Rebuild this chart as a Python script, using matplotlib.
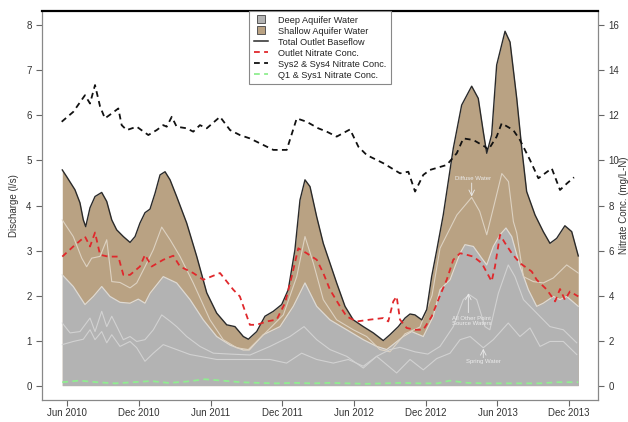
import numpy as np
import matplotlib
matplotlib.use("Agg")
import matplotlib.pyplot as plt
from matplotlib.lines import Line2D

plt.rcParams['font.family'] = ['Liberation Sans', 'DejaVu Sans']

# time axis: decimal months since 2010-01-01 (5 = Jun 2010)
tick_pos = [5, 11, 17, 23, 29, 35, 41, 47]
tick_labels = ["Jun 2010", "Dec 2010", "Jun 2011", "Dec 2011",
               "Jun 2012", "Dec 2012", "Jun 2013", "Dec 2013"]

# Total outlet baseflow (l/s)
t_total = [4.58, 4.95, 5.64, 6.06, 6.34, 6.54, 6.90, 7.32, 7.88, 8.30, 8.72, 9.13, 9.69,
           10.25, 10.67, 11.08, 11.50, 11.92, 12.34, 12.76, 13.18, 13.60, 14.15, 14.99,
           15.83, 16.67, 17.50, 18.34, 19.03, 19.73, 20.15, 20.85, 21.54, 22.24, 22.94,
           23.49, 24.05, 24.47, 24.89, 25.31, 25.87, 26.42, 26.98, 27.54, 28.24, 28.93,
           29.77, 30.61, 31.44, 32.00, 32.70, 33.26, 33.68, 34.09, 34.66, 35.08, 35.49,
           35.91, 36.46, 37.30, 38.00, 38.84, 39.39, 39.81, 40.10, 40.51, 40.93, 41.63,
           42.05, 42.61, 43.03, 43.44, 44.14, 44.83, 45.39, 45.95, 46.64, 47.21, 47.76]
total = [4.79, 4.64, 4.35, 4.06, 3.68, 3.53, 3.95, 4.20, 4.29, 4.09, 3.68, 3.46, 3.31,
         3.18, 3.31, 3.61, 3.84, 3.92, 4.27, 4.68, 4.75, 4.57, 4.20, 3.61,
         2.87, 2.06, 1.61, 1.35, 1.31, 1.09, 1.03, 1.20, 1.54, 1.65, 1.80,
         2.13, 3.02, 4.12, 4.57, 4.42, 3.75, 3.16, 2.72, 2.28, 1.76, 1.46,
         1.31, 1.17, 1.00, 1.13, 1.31, 1.50, 1.59, 1.57, 1.46, 1.69, 2.42,
         3.00, 3.79, 5.27, 6.23, 6.65, 6.38, 5.64, 5.16, 5.57, 7.12, 7.87,
         7.63, 6.38, 5.27, 4.31, 3.79, 3.42, 3.16, 3.27, 3.55, 3.42, 2.88]

# Deep aquifer water (l/s)
t_deep = [4.58, 5.50, 6.48, 7.18, 7.88, 8.57, 9.41, 10.25, 10.94, 11.50, 11.92, 13.03,
          14.15, 15.27, 16.38, 17.50, 18.62, 19.73, 20.23, 21.40, 22.80, 23.91, 24.89,
          25.87, 26.98, 28.38, 29.77, 30.89, 31.73, 33.12, 33.82, 34.79, 35.63, 36.19,
          37.03, 37.87, 38.28, 38.98, 39.68, 40.10, 40.65, 41.21, 41.71, 42.19, 42.88,
          43.58, 44.28, 44.83, 45.67, 46.23, 46.79, 47.76]
deep = [2.46, 2.20, 1.80, 1.98, 2.20, 1.98, 1.85, 1.83, 1.92, 1.83, 2.05, 2.42,
        2.28, 1.91, 1.46, 1.09, 0.90, 0.79, 0.79, 1.13, 1.31, 1.76, 2.28,
        1.76, 1.46, 1.24, 1.02, 0.87, 0.80, 1.09, 1.20, 1.09, 1.54, 2.13,
        2.35, 2.94, 3.13, 3.09, 2.83, 2.68, 3.09, 3.35, 3.50, 3.31, 2.65,
        2.13, 1.76, 1.83, 1.98, 1.91, 1.98, 1.76]

# Diffuse water boundary (l/s)
t_diffuse = [4.58, 5.50, 6.21, 6.62, 7.04, 7.74, 8.30, 8.72, 9.41, 10.25, 10.81, 11.50,
             12.20, 12.90, 13.60, 14.43, 15.54, 16.94, 18.05, 19.18, 20.15, 21.69, 23.08,
             24.20, 24.89, 25.59, 26.42, 27.54, 28.93, 30.05, 31.16, 32.00, 33.26, 34.51,
             35.52, 36.19, 37.60, 38.84, 39.51, 40.10, 40.79, 41.36, 41.92, 42.33, 42.61,
             43.17, 44.00, 44.83, 45.67, 46.79, 47.76]
diffuse = [3.68, 3.31, 2.83, 2.64, 2.83, 2.87, 3.24, 2.31, 2.29, 2.17, 2.28, 2.64,
           3.02, 3.52, 3.24, 2.87, 2.28, 1.46, 1.02, 0.84, 0.80, 1.20, 1.57,
           2.42, 3.31, 2.72, 1.91, 1.46, 1.24, 1.09, 0.80, 0.75, 1.15, 1.30,
           2.00, 3.05, 3.79, 4.18, 3.87, 3.35, 4.09, 4.71, 4.53, 3.64, 3.39,
           2.42, 2.31, 2.28, 2.39, 2.68, 2.50]

# All other point source waters boundary (l/s)
t_point = [4.58, 5.23, 6.06, 6.90, 7.32, 7.88, 8.30, 8.72, 9.69, 10.25, 10.81, 11.50,
           12.20, 12.90, 13.60, 14.15, 14.99, 16.10, 17.22, 18.62, 20.29, 21.96, 23.63,
           24.81, 25.87, 26.98, 28.38, 29.77, 30.89, 32.00, 32.84, 34.09, 35.17, 36.19,
           37.30, 38.14, 38.64, 39.26, 39.95, 40.36, 41.07, 41.90, 42.46, 43.17, 44.28,
           45.39, 46.51, 47.63]
point = [1.39, 1.17, 1.20, 1.50, 1.20, 1.65, 1.31, 1.54, 1.02, 1.09, 0.98, 1.02,
         1.24, 1.57, 1.43, 1.31, 1.09, 0.87, 0.72, 0.70, 0.68, 0.87, 1.09,
         1.31, 1.02, 0.80, 0.65, 0.39, 0.65, 0.80, 0.85, 0.75, 0.70, 0.87,
         1.31, 1.91, 2.02, 1.91, 1.31, 1.24, 2.05, 2.68, 2.42, 1.91, 1.61,
         1.31, 1.24, 0.95]

# Spring water boundary (l/s)
t_spring = [4.58, 5.50, 6.34, 6.90, 7.32, 7.88, 8.30, 8.72, 9.41, 10.25, 10.81, 11.50,
            12.20, 13.03, 14.15, 15.27, 16.10, 17.50, 19.18, 20.29, 21.96, 23.35, 24.61,
            25.87, 27.26, 28.51, 29.77, 30.89, 32.56, 33.68, 34.79, 35.91, 37.03, 37.87,
            38.71, 39.81, 40.65, 41.90, 42.88, 43.72, 44.56, 45.39, 46.51, 47.63]
spring = [0.91, 0.98, 1.03, 1.24, 1.02, 1.20, 0.95, 1.13, 0.87, 0.98, 0.84, 0.54,
          0.72, 0.91, 0.80, 0.69, 0.65, 0.58, 0.58, 0.58, 0.58, 0.50, 0.72,
          0.58, 0.50, 0.58, 0.43, 0.65, 0.28, 0.58, 0.35, 0.60, 0.72, 1.02,
          1.09, 0.84, 1.02, 1.39, 1.09, 1.28, 0.87, 0.98, 0.98, 0.69]

# Outlet nitrate conc. (mg/L-N)
t_outlet = [4.58, 5.50, 6.48, 6.90, 7.32, 7.74, 8.43, 9.27, 9.69, 10.25, 11.08, 11.50,
            12.06, 13.03, 13.87, 14.43, 15.54, 16.38, 17.78, 18.89, 19.44, 20.28, 20.85,
            21.69, 22.52, 23.22, 23.78, 24.33, 25.03, 25.87, 26.42, 26.98, 27.82, 28.38,
            29.22, 30.33, 31.44, 31.86, 32.28, 32.56, 32.84, 33.40, 34.09, 34.79, 35.49,
            36.19, 36.75, 37.30, 37.87, 38.43, 38.98, 39.68, 40.51, 40.79, 41.21, 41.63,
            42.19, 42.88, 43.86, 44.28, 45.13, 45.82, 46.23, 46.64, 47.06, 47.76]
outlet_no3 = [5.73, 6.18, 6.62, 6.18, 6.80, 5.81, 5.73, 5.73, 4.92, 4.92, 5.29, 5.81,
              5.29, 5.59, 5.77, 5.29, 5.00, 4.70, 5.00, 4.26, 3.96, 2.70, 2.70,
              2.85, 2.93, 3.67, 4.85, 6.10, 5.88, 5.59, 5.00, 4.26, 3.52, 3.07,
              2.85, 2.93, 3.00, 2.85, 3.74, 3.96, 2.93, 2.56, 2.48, 2.48, 3.07,
              4.00, 4.70, 5.59, 5.88, 5.81, 5.73, 5.44, 4.63, 5.29, 6.70, 6.33,
              5.88, 5.44, 5.07, 4.70, 4.26, 3.74, 4.29, 3.81, 4.18, 3.96]

# Sys2 & Sys4 nitrate conc. (mg/L-N)
t_sys24 = [4.53, 5.50, 6.48, 6.90, 7.32, 7.74, 8.15, 8.72, 9.27, 9.55, 9.97, 10.81,
           11.78, 12.48, 13.03, 13.32, 13.74, 14.15, 14.99, 15.54, 16.10, 16.67, 17.78,
           18.62, 19.44, 20.28, 22.24, 23.36, 24.20, 25.03, 26.00, 26.71, 27.54, 28.66,
           29.36, 30.06, 31.44, 32.84, 33.54, 34.10, 34.79, 35.35, 36.75, 37.59, 38.14,
           38.98, 39.96, 40.23, 40.93, 41.35, 42.32, 42.88, 43.72, 44.42, 44.98, 45.54,
           46.23, 46.83, 47.40]
sys24_no3 = [11.72, 12.16, 12.90, 12.53, 13.35, 12.40, 11.87, 12.09, 12.31, 11.57, 11.35, 11.50,
             11.13, 11.35, 11.57, 11.50, 11.94, 11.50, 11.43, 11.28, 11.57, 11.43, 11.94,
             11.35, 11.13, 10.98, 10.47, 10.47, 11.87, 11.72, 11.43, 11.28, 11.06, 11.38,
             10.61, 10.24, 9.88, 9.43, 9.50, 8.62, 9.36, 9.58, 9.80, 10.32, 10.98,
             10.91, 10.61, 10.47, 11.06, 11.65, 11.35, 10.91, 10.02, 9.21, 9.43, 9.65,
             8.69, 8.99, 9.25]

# Q1 & Sys1 nitrate conc. (mg/L-N)
t_q1 = [4.58, 6.0, 7.5, 9.0, 10.5, 12.0, 13.5, 15.0, 16.5, 18.0, 19.5, 21.0, 22.5, 24.0,
        25.5, 27.0, 28.5, 30.0, 31.5, 33.0, 34.5, 36.0, 37.0, 38.5, 40.0, 41.5, 43.0,
        44.5, 46.0, 47.76]
q1_no3 = [0.15, 0.22, 0.15, 0.10, 0.15, 0.20, 0.12, 0.18, 0.28, 0.22, 0.15, 0.12, 0.10, 0.12,
          0.10, 0.12, 0.10, 0.08, 0.10, 0.12, 0.10, 0.10, 0.22, 0.12, 0.10, 0.10, 0.10,
          0.10, 0.15, 0.15]

W, H = 628, 422
fig = plt.figure(figsize=(W / 100, H / 100), dpi=100)
L, R, T, B = 42, 598, 11, 400
ax = fig.add_axes([L / W, 1 - B / H, (R - L) / W, (B - T) / H])

GRAY = '#b3b3b3'
BROWN = '#b9a283'
ax.fill_between(t_total, 0, total, color=BROWN, lw=0, zorder=1)
ax.fill_between(t_deep, 0, deep, color=GRAY, lw=0, zorder=2)
ax.plot(t_deep, deep, color='#dedad4', lw=0.9, zorder=3)
ax.plot(t_diffuse, diffuse, color='#ddd2c2', lw=0.8, zorder=3)
ax.plot(t_point, point, color='#d2d2d2', lw=0.8, zorder=3)
ax.plot(t_spring, spring, color='#d2d2d2', lw=0.8, zorder=3)
ax.plot(t_total, total, color='#2a2a2a', lw=1.0, zorder=4)

txt_kw = dict(color='#ececec', fontsize=4.3, ha='center', va='center', zorder=5)
ax.text(38.93, 4.61, "Diffuse Water", **txt_kw)
ax.annotate("", xy=(38.84, 4.20), xytext=(38.84, 4.50),
            arrowprops=dict(arrowstyle='->', color='#ececec', lw=0.6, shrinkA=0, shrinkB=0), zorder=5)
ax.text(38.84, 1.44, "All Other Point\nSource Waters", linespacing=1.0, **txt_kw)
ax.annotate("", xy=(38.56, 2.05), xytext=(38.56, 1.62),
            arrowprops=dict(arrowstyle='->', color='#ececec', lw=0.6, shrinkA=0, shrinkB=0), zorder=5)
ax.text(39.81, 0.53, "Spring Water", **txt_kw)
ax.annotate("", xy=(39.81, 0.82), xytext=(39.81, 0.62),
            arrowprops=dict(arrowstyle='->', color='#ececec', lw=0.6, shrinkA=0, shrinkB=0), zorder=5)

xmin = 5 + (L - 67.3) / 11.95
xmax = 5 + (R - 67.3) / 11.95
ax.set_xlim(xmin, xmax)
ax.set_ylim(-0.32, 8.32)
ax.set_xticks(tick_pos)
ax.set_xticklabels(tick_labels)
ax.set_yticks(range(0, 9))

ax2 = ax.twinx()
ax2.set_ylim(-0.64, 16.64)
ax2.set_yticks(range(0, 17, 2))
dash = (3.2, 2.4)
ax2.plot(t_outlet, outlet_no3, color='#e0282c', lw=1.3, dashes=dash)
ax2.plot(t_sys24, sys24_no3, color='#111111', lw=1.3, dashes=dash)
ax2.plot(t_q1, q1_no3, color='#90ee90', lw=1.3, dashes=dash)

TICKC = '#666666'
for a in (ax, ax2):
    a.tick_params(direction='out', length=4.5, width=0.8, color=TICKC,
                  labelsize=7, labelcolor='#333333', pad=3)
    for s in a.spines.values():
        s.set_visible(False)
for side in ('left', 'right', 'bottom'):
    ax2.spines[side].set_visible(True)
    ax2.spines[side].set_color('#888888')
    ax2.spines[side].set_linewidth(0.9)
ax2.spines['top'].set_visible(True)
ax2.spines['top'].set_color('black')
ax2.spines['top'].set_linewidth(1.6)
ax.tick_params(axis='x', length=4, pad=1.5)

ax.set_ylabel("Discharge (l/s)", fontsize=7, color='#333333', labelpad=5)
fig.text(624 / W, 1 - 205 / H, "Nitrate Conc. (mg/L-N)", rotation=90,
         fontsize=7, color='#333333', ha='center', va='center')

handles = [
    Line2D([], [], ls='none', marker='s', markersize=5.5, markerfacecolor=GRAY,
           markeredgecolor='#555555', markeredgewidth=0.7),
    Line2D([], [], ls='none', marker='s', markersize=5.5, markerfacecolor=BROWN,
           markeredgecolor='#555555', markeredgewidth=0.7),
    Line2D([], [], color='#2a2a2a', lw=1.1),
    Line2D([], [], color='#e0282c', lw=1.3, dashes=dash),
    Line2D([], [], color='#111111', lw=1.3, dashes=dash),
    Line2D([], [], color='#90ee90', lw=1.3, dashes=dash),
]
labels = ["Deep Aquifer Water", "Shallow Aquifer Water", "Total Outlet Baseflow",
          "Outlet Nitrate Conc.", "Sys2 & Sys4 Nitrate Conc.", "Q1 & Sys1 Nitrate Conc."]
leg = ax2.legend(handles, labels, loc='upper center', bbox_to_anchor=(0.5, 1.0),
                 fontsize=6.6, frameon=True, fancybox=False, framealpha=1,
                 edgecolor='#888888', borderaxespad=0, labelspacing=0.22,
                 handlelength=1.5, handletextpad=1.1, borderpad=0.5)
leg.get_frame().set_linewidth(0.8)
for t in leg.get_texts():
    t.set_color('#222222')

fig.savefig("out.png", dpi=100)
